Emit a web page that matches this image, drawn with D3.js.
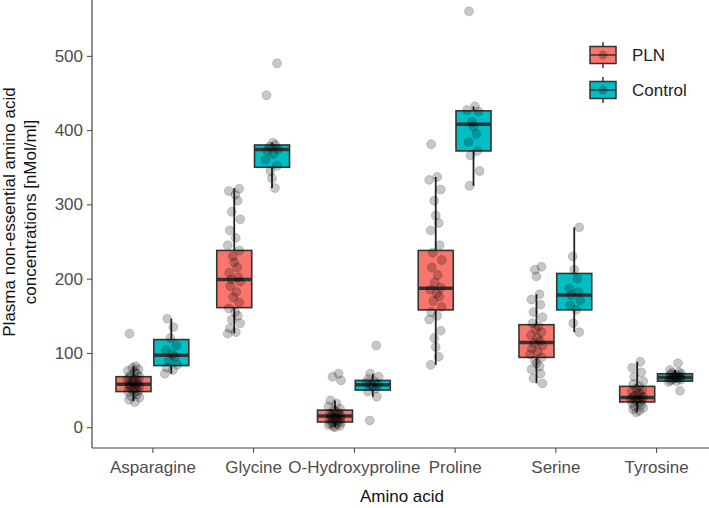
<!DOCTYPE html>
<html>
<head>
<meta charset="utf-8">
<script src="https://cdn.jsdelivr.net/npm/d3@7"></script>
<style>
  body { margin: 0; background: #fff; }
  text { font-family: "Liberation Sans", Arial, sans-serif; }
</style>
</head>
<body>
<div id="chart"></div>
<script>
// categories and groups
var aminoAcids = ['Asparagine', 'Glycine', 'O-Hydroxyproline', 'Proline', 'Serine', 'Tyrosine'];
var groups = ['PLN', 'Control'];
var groupColors = ['#F8766D', '#00BFC4'];
var yTicks = [0, 100, 200, 300, 400, 500];

// box stats: [lower whisker, q1, median, q3, upper whisker]
var boxPLN = [
	[35, 48, 58, 68, 83],
	[126, 161, 199, 238, 322],
	[0, 7, 15, 23, 36],
	[84, 158, 187, 238, 337],
	[59, 94, 114, 138, 179],
	[20, 34, 40, 55, 88]
];
var boxControl = [
	[72, 83, 97, 118, 146],
	[322, 350, 374, 380, 383],
	[41, 50, 57, 63, 72],
	[325, 372, 408, 426, 432],
	[128, 158, 178, 207, 269],
	[60, 62, 67, 72, 77]
];

// individual observations (estimated)
var pointsPLN = [
	[126, 82, 80, 78, 76, 74, 72, 70, 68, 67, 66, 64, 62, 61, 60, 59, 58, 57, 56, 55, 54, 52, 50, 49, 48, 46, 44, 42, 40, 37, 34],
	[321, 318, 313, 305, 290, 280, 265, 255, 245, 238, 230, 222, 215, 208, 202, 199, 196, 190, 182, 175, 168, 160, 155, 150, 145, 140, 133, 128, 126],
	[72, 68, 63, 36, 32, 28, 25, 23, 21, 20, 18, 17, 16, 15, 14, 13, 12, 11, 10, 9, 8, 7, 6, 5, 4, 3, 2, 1, 0],
	[381, 337, 333, 320, 305, 285, 275, 265, 245, 235, 225, 215, 205, 195, 188, 185, 180, 176, 170, 162, 155, 150, 145, 130, 120, 108, 95, 84],
	[216, 212, 203, 179, 172, 165, 155, 148, 140, 136, 132, 128, 124, 120, 116, 113, 110, 106, 102, 98, 94, 90, 86, 82, 78, 72, 66, 59],
	[88, 80, 74, 68, 62, 58, 55, 52, 50, 48, 46, 44, 42, 41, 40, 39, 38, 37, 36, 35, 34, 32, 30, 28, 26, 24, 22, 20]
];
var pointsControl = [
	[146, 135, 120, 110, 104, 98, 95, 90, 84, 80, 77, 72],
	[490, 447, 383, 380, 378, 374, 372, 368, 360, 352, 345, 335, 322],
	[110, 72, 68, 65, 62, 60, 58, 57, 55, 52, 48, 41, 9],
	[560, 432, 427, 425, 411, 405, 395, 384, 372, 366, 345, 325],
	[269, 230, 212, 200, 187, 182, 178, 171, 164, 158, 140, 128],
	[86, 77, 74, 73, 72, 71, 70, 69, 68, 67, 67, 66, 65, 64, 63, 62, 61, 49]
];

var W = 709, H = 508;
var plotLeft = 92, plotBottom = 448;

var svg = d3.select('#chart').append('svg').attr('width', W).attr('height', H);

var x = d3.scalePoint().domain(aminoAcids).range([152.4, 656.1]);
var step = x.step();
var dodge = step * 0.1875;
var boxW = 35;

var y = d3.scaleLinear().domain([-28, 586]).range([plotBottom, -8]);

// fixed jitter pattern (horizontal offsets, px)
var jitter = [-4, 2, -1, 5, -5.5, 1, 3.5, -2.5, 6, -4.5, 1.5, -6.5, 5, -1.5, 0, 3, -5, 4, -3, 6];

// axes
var yAxis = d3.axisLeft(y).tickValues(yTicks).tickSize(5).tickPadding(4);
var gy = svg.append('g').attr('transform', 'translate(' + plotLeft + ',0)').call(yAxis);
gy.select('.domain').remove();
gy.selectAll('line').attr('stroke', '#444').attr('stroke-width', 1);
gy.selectAll('text').attr('font-size', 17).attr('fill', '#4d4d4d');

var xAxis = d3.axisBottom(x).tickSize(5).tickPadding(8);
var gx = svg.append('g').attr('transform', 'translate(0,' + plotBottom + ')').call(xAxis);
gx.select('.domain').remove();
gx.selectAll('line').attr('stroke', '#444').attr('stroke-width', 1);
gx.selectAll('text').attr('font-size', 17).attr('fill', '#4d4d4d');

svg.append('line').attr('x1', plotLeft).attr('x2', plotLeft).attr('y1', 0).attr('y2', plotBottom)
	.attr('stroke', '#444').attr('stroke-width', 1.2);
svg.append('line').attr('x1', plotLeft).attr('x2', W).attr('y1', plotBottom).attr('y2', plotBottom)
	.attr('stroke', '#444').attr('stroke-width', 1.2);

// boxes
function drawGroup(boxes, gi){
	var off = gi === 0 ? -dodge : dodge;
	var g = svg.append('g');
	aminoAcids.forEach(function(a, i){
		var cx = x(a) + off;
		var b = boxes[i];
		g.append('line').attr('x1', cx).attr('x2', cx).attr('y1', y(b[0])).attr('y2', y(b[4]))
			.attr('stroke', '#222').attr('stroke-width', 1.8);
		g.append('rect').attr('x', cx - boxW / 2).attr('width', boxW)
			.attr('y', y(b[3])).attr('height', y(b[1]) - y(b[3]))
			.attr('fill', groupColors[gi]).attr('stroke', '#333').attr('stroke-width', 1.6);
		g.append('line').attr('x1', cx - boxW / 2).attr('x2', cx + boxW / 2)
			.attr('y1', y(b[2])).attr('y2', y(b[2]))
			.attr('stroke', '#333').attr('stroke-width', 3.5);
	});
}
function drawPoints(points, gi){
	var off = gi === 0 ? -dodge : dodge;
	var data = [];
	aminoAcids.forEach(function(a, i){
		points[i].forEach(function(v, j){
			data.push({a: a, v: v, j: jitter[(j + i * 3) % jitter.length]});
		});
	});
	svg.append('g').selectAll('circle').data(data).enter().append('circle')
		.attr('cx', function(d){ return x(d.a) + off + d.j; })
		.attr('cy', function(d){ return y(d.v); })
		.attr('r', 4.5)
		.attr('fill', 'rgba(0,0,0,0.22)')
		.attr('stroke', 'rgba(0,0,0,0.15)');
}
drawGroup(boxPLN, 0);
drawGroup(boxControl, 1);
drawPoints(pointsPLN, 0);
drawPoints(pointsControl, 1);

// axis titles
svg.append('text').attr('x', 402).attr('y', 502).attr('text-anchor', 'middle')
	.attr('font-size', 17).attr('fill', '#111').text('Amino acid');
var yt = svg.append('text').attr('transform', 'translate(0,212) rotate(-90)')
	.attr('text-anchor', 'middle').attr('font-size', 17).attr('fill', '#111');
yt.append('tspan').attr('x', 0).attr('y', 15).text('Plasma non-essential amino acid');
yt.append('tspan').attr('x', 0).attr('y', 36).text('concentrations [nMol/ml]');

// legend
var leg = svg.append('g');
groups.forEach(function(gname, i){
	var cy = 55 + i * 35;
	var cx = 603;
	leg.append('line').attr('x1', cx).attr('x2', cx).attr('y1', cy - 13).attr('y2', cy + 13)
		.attr('stroke', '#333').attr('stroke-width', 1.5);
	leg.append('rect').attr('x', cx - 13).attr('y', cy - 8.5).attr('width', 26).attr('height', 17)
		.attr('fill', groupColors[i]).attr('stroke', '#333').attr('stroke-width', 1.5);
	leg.append('line').attr('x1', cx - 13).attr('x2', cx + 13).attr('y1', cy).attr('y2', cy)
		.attr('stroke', '#333').attr('stroke-width', 1.5);
	leg.append('circle').attr('cx', cx).attr('cy', cy).attr('r', 4.5).attr('fill', 'rgba(0,0,0,0.25)');
	leg.append('text').attr('x', 632).attr('y', cy + 6).attr('font-size', 17).attr('fill', '#222').text(gname);
});
</script>
</body>
</html>
